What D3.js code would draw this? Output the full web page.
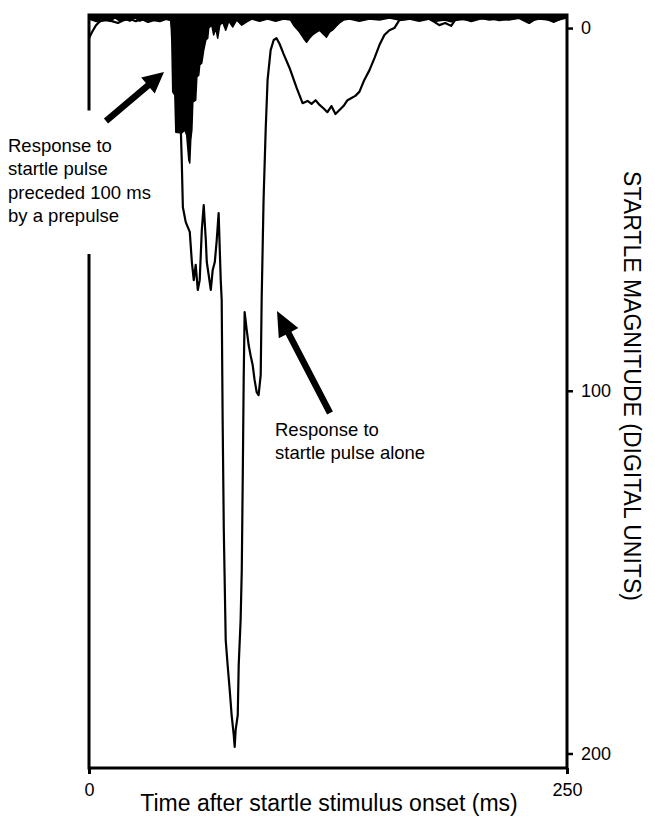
<!DOCTYPE html>
<html>
<head>
<meta charset="utf-8">
<script src="https://cdn.jsdelivr.net/npm/d3@7"></script>
<style>
  html, body { margin: 0; padding: 0; background: #fff; }
  svg { display: block; }
  text { font-family: "Liberation Sans", Arial, sans-serif; fill: #000; }
</style>
</head>
<body>
<svg id="chart" width="655" height="816"></svg>
<script>
// Startle response recordings: magnitude (digital units) over time after stimulus onset (ms)

// Pulse alone (thin trace)
const aloneTime = [0, 1.6, 3.7, 5.7, 8.9, 12.0, 15.1, 18.3, 21.4, 24.5, 27.7, 30.8, 33.9, 37.1, 40.2, 42.8,
  44.9, 46.4, 48.0, 48.5, 49.1, 50.6, 52.7, 53.8, 54.8, 55.8, 56.9, 57.9, 59.0, 60.0, 61.1, 61.6, 62.6,
  63.7, 64.7, 65.8, 66.8, 67.8, 68.4, 68.9, 69.4, 69.9, 70.5, 71.5, 72.5, 73.6, 74.6, 75.7, 76.2, 76.7,
  77.8, 78.3, 79.3, 79.9, 80.4, 80.9, 81.4, 82.5, 83.5, 84.5, 85.6, 86.6, 87.7, 88.7, 89.8, 90.3, 91.3,
  92.4, 93.4, 95.0, 96.6, 98.1, 99.7, 101.8, 104.9, 108.6, 111.7, 114.3, 116.4, 118.5, 120.6, 122.6,
  124.7, 126.8, 128.9, 131.0, 133.1, 135.2, 137.3, 139.3, 141.4, 144.0, 146.7, 149.3, 151.9, 154.5,
  157.1, 159.7, 162.3, 167.5, 172.7, 178.0, 180.6, 183.2, 186.3, 189.4, 191.5, 196.2, 199.9, 204.1,
  209.3, 214.5, 219.7, 224.9, 230.2, 233.3, 238.0, 243.2, 245.8, 250];
const aloneMag = [2.8, 1.1, -0.8, -1.9, -2.2, -1.9, -1.4, -2.2, -2.5, -1.9, -2.5, -1.7, -2.2, -1.9, -2.5, -2.2,
  4.7, 19.9, 27.6, 36.4, 49.4, 53.5, 56.2, 64.5, 69.5, 65.3, 72.2, 69.5, 55.7, 48.8, 58.5, 64.5, 68.1,
  72.2, 66.7, 64.5, 58.5, 51.0, 61.2, 69.5, 75.0, 108.1, 138.4, 168.7, 175.6, 182.5, 189.4, 194.9, 198.2, 193.5,
  189.4, 175.6, 163.2, 149.4, 124.6, 97.0, 78.3, 83.3, 87.4, 90.2, 92.9, 97.0, 100.4, 101.2, 95.7, 75.0, 47.4,
  28.1, 14.3, 6.1, 3.3, 2.8, 4.4, 7.2, 11.0, 16.5, 20.7, 20.1, 20.9, 19.9, 21.2, 22.1,
  23.2, 21.5, 23.7, 22.6, 21.5, 19.9, 19.3, 18.7, 17.6, 14.3, 11.6, 8.3, 4.7, 1.9,
  0.6, 0.0, -2.2, -2.5, -2.8, -2.5, -1.7, -0.8, -1.4, -0.6, -2.2, -2.5, -1.9, -2.5,
  -2.8, -2.2, -2.5, -2.8, -1.4, -2.5, -2.8, -1.7, -2.5, -3.0];

// Pulse preceded 100 ms by a prepulse (filled trace)
const prepulseTime = [0, 3.1, 5.7, 8.4, 11.0, 13.6, 16.2, 18.8, 21.4, 24.0, 26.6, 29.2, 31.8, 34.4, 37.1, 39.7,
  42.8, 43.3, 43.8, 44.9, 45.4, 48.5, 50.1, 51.1, 52.2, 52.7, 53.2, 53.8, 54.3, 55.8, 56.4, 57.4, 57.9,
  59.0, 60.0, 61.1, 62.1, 62.6, 64.2, 65.2, 66.3, 67.3, 68.4, 69.9, 71.5, 73.1, 75.2, 77.2, 79.9, 82.5,
  85.1, 89.2, 93.4, 97.6, 101.8, 105.4, 107.0, 110.1, 112.2, 113.8, 115.3, 116.9, 119.0, 120.6, 122.6,
  124.2, 125.8, 127.3, 129.4, 131.0, 133.1, 136.2, 141.4, 146.7, 151.9, 157.1, 162.3, 167.5, 172.7,
  178.0, 181.6, 185.8, 189.4, 192.6, 198.9, 204.1, 209.3, 214.5, 219.7, 224.9, 230.2, 235.4, 240.6,
  244.2, 247.4, 250];
const prepulseMag = [-2.5, -1.9, -1.7, -2.5, -1.9, -2.8, -1.9, -2.5, -1.9, -2.8, -1.9, -2.5, -1.9, -2.5, -2.2, -2.8,
  -2.5, 3.3, 17.6, 18.5, 28.7, 28.9, 28.1, 29.5, 36.4, 37.2, 30.9, 28.1, 20.4, 19.9, 13.5, 13.0, 10.2,
  9.6, 6.1, 3.3, 2.8, 0.0, -0.8, 1.9, 0.0, 2.8, -0.8, -1.7, 0.6, -1.9, -0.3, -2.2, -0.8, -1.7,
  -2.5, -1.9, -2.5, -1.9, -2.5, -2.2, -0.8, 1.1, 2.8, 3.9, 2.8, 1.9, 1.1, 0.6, 1.7,
  2.5, 1.1, 0.6, -0.6, -1.4, -2.2, -2.5, -1.9, -2.5, -2.2, -2.8, -2.2, -2.5, -1.9,
  -2.5, -1.9, -2.2, -1.7, -2.5, -2.2, -2.8, -2.2, -2.5, -2.2, -2.8, -1.9, -2.5, -2.2,
  -1.9, -2.5, -2.8];

const xTickValues = [0, 250];
const yTickValues = [0, 100, 200];
const timeDomain = [0, 250];
const magDomain = [-3.6, 204];

const svg = d3.select("#chart");

const x = d3.scaleLinear().domain(timeDomain).range([89, 567]);
const y = d3.scaleLinear().domain(magDomain).range([15, 768]);

const alone = aloneTime.map((t, i) => ({ t, v: aloneMag[i] }));
const prepulse = prepulseTime.map((t, i) => ({ t, v: prepulseMag[i] }));

// Plot frame
const x0 = x(timeDomain[0]), x1 = x(timeDomain[1]);
const yTop = y(magDomain[0]), yBot = y(magDomain[1]);
svg.append("rect")
  .attr("x", x0).attr("y", yTop)
  .attr("width", x1 - x0).attr("height", yBot - yTop)
  .attr("fill", "none").attr("stroke", "#000").attr("stroke-width", 3);

// Prepulse trace: filled from the top edge down to the response
svg.append("path")
  .datum(prepulse)
  .attr("d", d3.area().x(d => x(d.t)).y0(yTop).y1(d => y(d.v)))
  .attr("fill", "#000").attr("stroke", "#000").attr("stroke-width", 1.5)
  .attr("stroke-linejoin", "round");

// Pulse-alone trace
svg.append("path")
  .datum(alone)
  .attr("d", d3.line().x(d => x(d.t)).y(d => y(d.v)))
  .attr("fill", "none").attr("stroke", "#000").attr("stroke-width", 2.2)
  .attr("stroke-linejoin", "round");

// Right axis (magnitude)
const yAxis = svg.append("g")
  .attr("transform", `translate(${x1},0)`)
  .call(d3.axisRight(y).tickValues(yTickValues).tickSize(6).tickPadding(8).tickFormat(d3.format("d")));
yAxis.select(".domain").remove();
yAxis.selectAll(".tick line").attr("stroke", "#000").attr("stroke-width", 2.5);
yAxis.selectAll(".tick text").style("font-size", "18px").attr("font-family", null);

// Bottom axis (time)
const xAxis = svg.append("g")
  .attr("transform", `translate(0,${yBot})`)
  .call(d3.axisBottom(x).tickValues(xTickValues).tickSize(6).tickPadding(9).tickFormat(d3.format("d")));
xAxis.select(".domain").remove();
xAxis.selectAll(".tick line").attr("stroke", "#000").attr("stroke-width", 3);
xAxis.selectAll(".tick text").style("font-size", "18px").attr("font-family", null);

// Axis titles
svg.append("text")
  .attr("x", 329).attr("y", 811)
  .attr("text-anchor", "middle")
  .style("font-size", "23px")
  .text("Time after startle stimulus onset (ms)");

svg.append("text")
  .attr("transform", "translate(632,386) rotate(90)")
  .attr("text-anchor", "middle")
  .attr("dominant-baseline", "central")
  .style("font-size", "23px")
  .text("STARTLE MAGNITUDE (DIGITAL UNITS)");

// Annotations
function addLabel(lines, lx, ly, lh, clear) {
  const g = svg.append("g");
  const bg = g.append("rect").attr("fill", "#fff");
  const t = g.append("text").style("font-size", "18.5px");
  lines.forEach((s, i) => {
    t.append("tspan").attr("x", lx).attr("y", ly + i * lh).text(s);
  });
  if (clear) {
    const b = t.node().getBBox();
    bg.attr("x", b.x - 4).attr("y", b.y - clear[0])
      .attr("width", b.width + 8).attr("height", b.height + clear[0] + clear[1]);
  }
}
addLabel(["Response to", "startle pulse", "preceded 100 ms", "by a prepulse"], 8, 151.5, 23.5, [24, 28]);
addLabel(["Response to", "startle pulse alone"], 275, 435.5, 23.3, null);

// Arrows
function arrow(tail, tip, shaft, headLen, headW) {
  const dx = tip[0] - tail[0], dy = tip[1] - tail[1];
  const len = Math.hypot(dx, dy);
  const ux = dx / len, uy = dy / len, nx = -uy, ny = ux;
  const bx = tip[0] - ux * headLen, by = tip[1] - uy * headLen;
  const p = [
    [tail[0] + nx * shaft / 2, tail[1] + ny * shaft / 2],
    [bx + nx * shaft / 2, by + ny * shaft / 2],
    [bx + nx * headW / 2, by + ny * headW / 2],
    tip,
    [bx - nx * headW / 2, by - ny * headW / 2],
    [bx - nx * shaft / 2, by - ny * shaft / 2],
    [tail[0] - nx * shaft / 2, tail[1] - ny * shaft / 2]
  ];
  svg.append("path").attr("d", d3.line()(p) + "Z").attr("fill", "#000");
}
arrow([106, 121], [164, 72], 6.5, 21, 21);
arrow([330, 413], [277, 311], 6.5, 25, 22);
</script>
</body>
</html>
